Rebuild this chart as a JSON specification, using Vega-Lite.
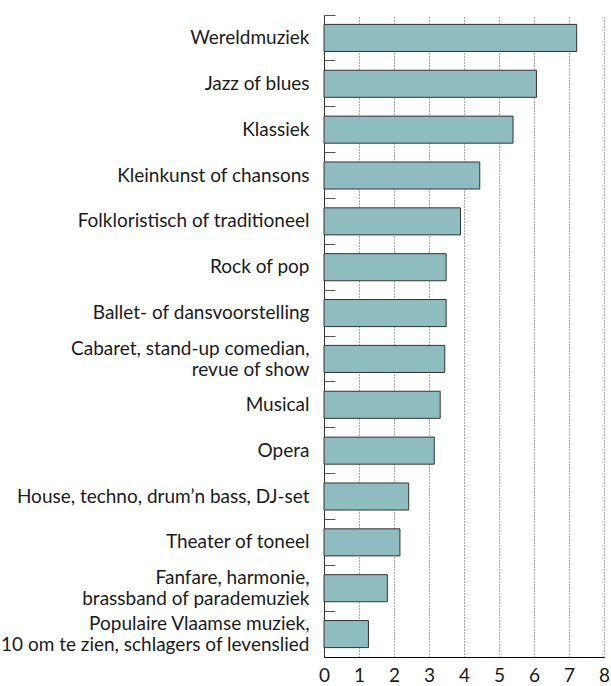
{
  "$schema": "https://vega.github.io/schema/vega-lite/v6.json",
  "width": 280,
  "height": 642,
  "autosize": {"type": "none"},
  "padding": {"left": 324, "top": 15, "right": 7, "bottom": 29},
  "background": "white",
  "config": {
    "view": {"stroke": null},
    "font": "Lato",
    "axis": {"labelFont": "Lato", "labelColor": "#1a1a1a", "domainColor": "#000000", "domainWidth": 1}
  },
  "data": {
    "values": [
      {"genre": "Wereldmuziek", "value": 7.22},
      {"genre": "Jazz of blues", "value": 6.07},
      {"genre": "Klassiek", "value": 5.40},
      {"genre": "Kleinkunst of chansons", "value": 4.45},
      {"genre": "Folkloristisch of traditioneel", "value": 3.90},
      {"genre": "Rock of pop", "value": 3.49},
      {"genre": "Ballet- of dansvoorstelling", "value": 3.49},
      {"genre": "Cabaret, stand-up comedian,\nrevue of show", "value": 3.45},
      {"genre": "Musical", "value": 3.32},
      {"genre": "Opera", "value": 3.15},
      {"genre": "House, techno, drum’n bass, DJ-set", "value": 2.42},
      {"genre": "Theater of toneel", "value": 2.17},
      {"genre": "Fanfare, harmonie,\nbrassband of parademuziek", "value": 1.81},
      {"genre": "Populaire Vlaamse muziek,\n10 om te zien, schlagers of levenslied", "value": 1.27}
    ]
  },
  "mark": {"type": "bar", "fill": "#8EBCBF", "stroke": "#333333", "strokeWidth": 1},
  "encoding": {
    "y": {
      "field": "genre",
      "type": "nominal",
      "sort": null,
      "scale": {"paddingInner": 0.41, "paddingOuter": 0.205},
      "axis": {
        "title": null,
        "labelFontSize": 19,
        "labelLimit": 400,
        "labelPadding": 26,
        "labelExpr": "split(datum.label, '\\n')",
        "labelLineHeight": 21,
        "labelOffset": {"condition": {"test": "indexof(datum.value, '\\n') >= 0", "value": -10}, "value": 0},
        "ticks": true,
        "tickSize": -11,
        "tickColor": "#555555",
        "tickWidth": 1,
        "bandPosition": -0.347,
        "domainColor": "#333333"
      }
    },
    "x": {
      "field": "value",
      "type": "quantitative",
      "scale": {"domain": [0, 8], "nice": false},
      "axis": {
        "title": null,
        "values": [0, 1, 2, 3, 4, 5, 6, 7, 8],
        "labelFontSize": 19,
        "labelPadding": 9,
        "ticks": false,
        "grid": true,
        "gridColor": "#555555",
        "gridDash": [1, 2],
        "gridWidth": 1,
        "labelFlush": false
      }
    }
  }
}
